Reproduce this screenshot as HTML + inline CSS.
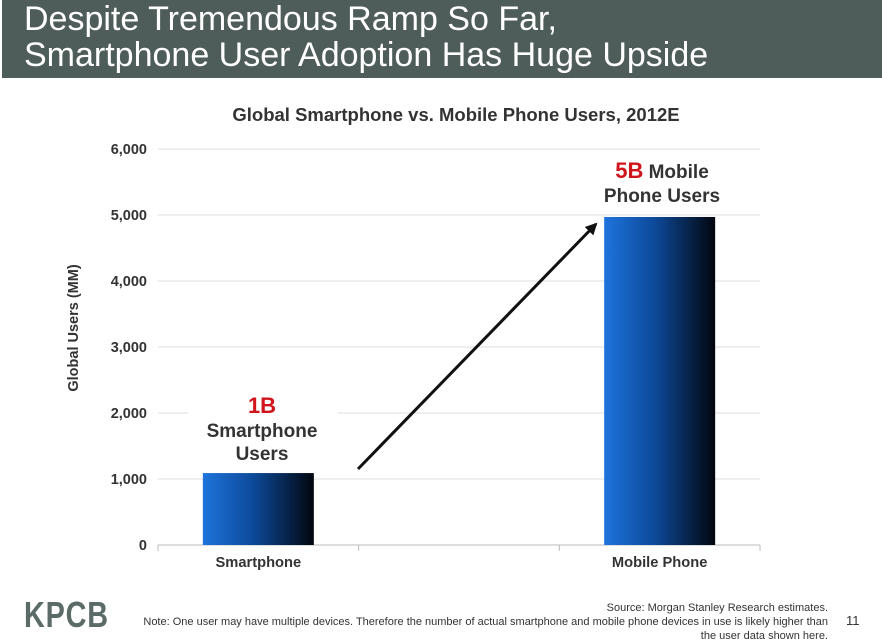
<!DOCTYPE html>
<html><head><meta charset="utf-8">
<style>
body{margin:0;width:882px;height:642px;background:#fff;font-family:"Liberation Sans",sans-serif;position:relative;overflow:hidden}
#hdr{position:absolute;left:2px;top:0;width:880px;height:78px;background:#4f5d5a}
#hdr div{position:absolute;left:22px;color:#fff;font-size:34px;line-height:36px;white-space:nowrap}
.ft{position:absolute;font-size:11px;color:#333;text-align:right;line-height:14px}
</style></head><body>
<div id="hdr">
<div style="top:1px">Despite Tremendous Ramp So Far,</div>
<div style="top:37px">Smartphone User Adoption Has Huge Upside</div>
</div>
<svg id="chart" width="882" height="642" style="position:absolute;left:0;top:0">
<defs><linearGradient id="bg" x1="0" x2="1" y1="0" y2="0">
<stop offset="0" stop-color="#1e74dc"/><stop offset="0.45" stop-color="#0d4a9a"/><stop offset="1" stop-color="#02060e"/></linearGradient>
<marker id="ah" markerWidth="12" markerHeight="12" refX="10" refY="6" orient="auto" markerUnits="userSpaceOnUse"><path d="M0,0 L12,6 L0,12 Z" fill="#111"/></marker></defs>
</svg>
<div style="position:absolute;left:24px;top:594px;font-size:36px;font-weight:bold;color:#5b6b68;letter-spacing:1px;transform:scaleX(0.8);transform-origin:left">KPCB</div>
<div class="ft" style="right:54px;top:601px;width:700px">Source: Morgan Stanley Research estimates.<br>Note: One user may have multiple devices. Therefore the number of actual smartphone and mobile phone devices in use is likely higher than<br>the user data shown here.</div>
<div style="position:absolute;left:846px;top:613px;font-size:13px;color:#333">11</div>
<script>
const categories=["Smartphone","Mobile Phone"];
const values=[1090,4970];
const ticks=[0,1000,2000,3000,4000,5000,6000];
const tickLabels=["0","1,000","2,000","3,000","4,000","5,000","6,000"];
const svg=document.getElementById('chart');const NS="http://www.w3.org/2000/svg";
const x0=158,x1=760,y0=545,y1=149,vmax=6000;
const Y=v=>y0-(v/vmax)*(y0-y1);
const nBands=categories.length*2-1;
const bandW=(x1-x0)/nBands;
const X=i=>x0+bandW*(i*2+0.5);
function mk(t,a,txt){const e=document.createElementNS(NS,t);for(const k in a)e.setAttribute(k,a[k]);if(txt!==undefined)e.textContent=txt;svg.appendChild(e);return e;}
let e;
e=mk('text',{x:456,y:121,'text-anchor':'middle','font-size':18.5,'font-weight':'bold',fill:'#333'},'Global Smartphone vs. Mobile Phone Users, 2012E');


ticks.forEach((t,i)=>{
 if(t>0){e=mk('line',{x1:x0,x2:x1,y1:Y(t),y2:Y(t),stroke:'#ddd','stroke-width':1});
 
 }
 e=mk('text',{x:147,y:Y(t)+5,'text-anchor':'end','font-size':14.5,'font-weight':'bold',fill:'#333'},tickLabels[i]);
 
 
});
e=mk('line',{x1:x0,x2:x1,y1:y0,y2:y0,stroke:'#bbb','stroke-width':1});


for(let k=0;k<=nBands;k++){e=mk('line',{x1:x0+bandW*k,x2:x0+bandW*k,y1:y0,y2:y0+6,stroke:'#bbb'});

}
e=mk('text',{x:0,y:0,transform:'translate(78,328) rotate(-90)','text-anchor':'middle','font-size':14.5,'font-weight':'bold',fill:'#333'},'Global Users (MM)');


const bw=111;
categories.forEach((c,i)=>{
 e=mk('rect',{x:X(i)-bw/2,y:Y(values[i]),width:bw,height:y0-Y(values[i]),fill:'url(#bg)'});
 
 
 e=mk('text',{x:X(i),y:567,'text-anchor':'middle','font-size':14.7,'font-weight':'bold',fill:'#333'},c);
 
 
});
e=mk('rect',{x:188,y:390,width:150,height:78,fill:'#fff'});


e=mk('text',{x:262,y:413,'text-anchor':'middle','font-size':22,'font-weight':'bold',fill:'#d0141c'},'1B');


e=mk('text',{x:262,y:437,'text-anchor':'middle','font-size':19,'font-weight':'bold',fill:'#333'},'Smartphone');


e=mk('text',{x:262,y:460,'text-anchor':'middle','font-size':19,'font-weight':'bold',fill:'#333'},'Users');


e=mk('text',{x:662,y:178,'text-anchor':'middle','font-size':19,'font-weight':'bold',fill:'#333'});
e.innerHTML='<tspan fill="#d0141c" font-size="22">5B</tspan> Mobile';


e=mk('text',{x:662,y:202,'text-anchor':'middle','font-size':19,'font-weight':'bold',fill:'#333'},'Phone Users');


e=mk('line',{x1:358,y1:469,x2:596,y2:224,stroke:'#111','stroke-width':3,'marker-end':'url(#ah)'});


</script>
</body></html>
